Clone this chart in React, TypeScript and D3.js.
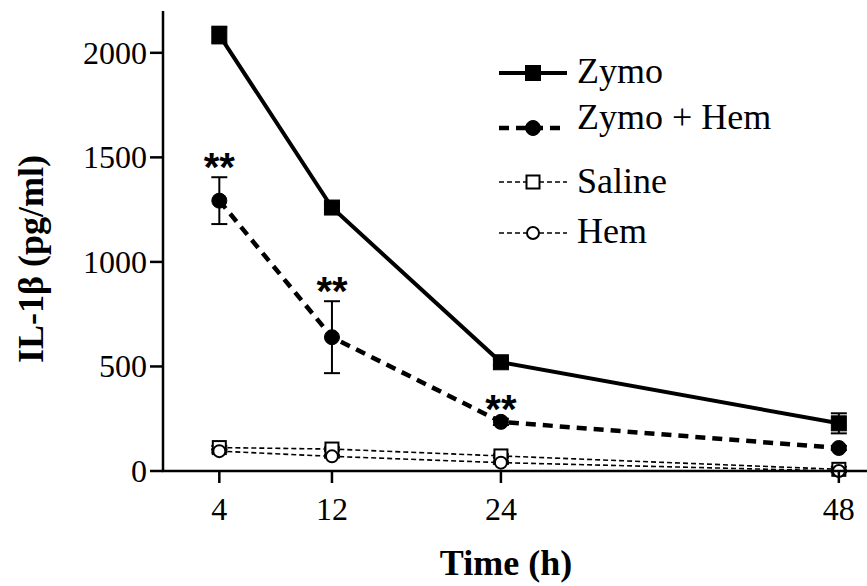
import * as d3 from 'd3'

const W = 867
const H = 586

// time points (h)
const TIMES = [4, 12, 24, 48]
const Y_TICKS = [0, 500, 1000, 1500, 2000]

// IL-1β values (pg/ml) and SEM
const ZYMO = [2085, 1260, 520, 228]
const ZYMO_ERR = [40, 15, 15, 48]
const ZYMO_HEM = [1293, 640, 235, 110]
const ZYMO_HEM_ERR = [112, 172, 15, 10]
const SALINE = [112, 105, 72, 8]
const SALINE_ERR = [8, 8, 8, 12]
const HEM = [95, 70, 40, 0]
const HEM_ERR = [6, 6, 6, 6]

// which Zymo + Hem points carry a significance mark
const SIGNIF = ['**', '**', '**', '']

const LEGEND = ['Zymo', 'Zymo + Hem', 'Saline', 'Hem']

const SERIF = '"Liberation Serif", "Times New Roman", serif'
const SANS = '"Liberation Sans", Arial, sans-serif'

const x = d3.scaleLinear().domain([0, 50]).range([163, 867])
const y = d3.scaleLinear().domain([0, 2200]).range([471, 11])

type Series = {
  name: string
  values: number[]
  err: number[]
  dash: string
  width: number
  marker: 'square' | 'circle'
  filled: boolean
  size: number
}

const SERIES: Series[] = [
  { name: LEGEND[2], values: SALINE, err: SALINE_ERR, dash: '5,3', width: 1.6, marker: 'square', filled: false, size: 13 },
  { name: LEGEND[3], values: HEM, err: HEM_ERR, dash: '5,3', width: 1.6, marker: 'circle', filled: false, size: 12 },
  { name: LEGEND[1], values: ZYMO_HEM, err: ZYMO_HEM_ERR, dash: '10,7', width: 4.5, marker: 'circle', filled: true, size: 15 },
  { name: LEGEND[0], values: ZYMO, err: ZYMO_ERR, dash: '', width: 4, marker: 'square', filled: true, size: 15 },
]

function Marker({ cx, cy, s }: { cx: number; cy: number; s: Series }) {
  const fill = s.filled ? '#000' : '#fff'
  if (s.marker === 'square') {
    return <rect x={cx - s.size / 2} y={cy - s.size / 2} width={s.size} height={s.size} fill={fill} stroke="#000" strokeWidth={s.filled ? 1 : 2} />
  }
  return <circle cx={cx} cy={cy} r={s.size / 2} fill={fill} stroke="#000" strokeWidth={s.filled ? 1 : 2} />
}

export default function App() {
  const line = d3.line<number>().x((_, i) => x(TIMES[i])).y((v) => y(v))

  const legendSeries = [SERIES[3], SERIES[2], SERIES[0], SERIES[1]]
  const legendY = [73, 128, 182, 233]
  const legendBase = [83, 129, 193, 243]

  return (
    <svg width={W} height={H} style={{ display: 'block', position: 'absolute', left: 0, top: 0, background: '#fff' }}>
      {/* error bars */}
      {SERIES.map((s) => (
        <g key={s.name + '-err'} stroke="#000" strokeWidth={2}>
          {s.values.map((v, i) => {
            const cx = x(TIMES[i])
            const top = y(v + s.err[i])
            const bot = y(v - s.err[i])
            return (
              <g key={i}>
                <line x1={cx} x2={cx} y1={top} y2={bot} />
                <line x1={cx - 8} x2={cx + 8} y1={top} y2={top} />
                <line x1={cx - 8} x2={cx + 8} y1={bot} y2={bot} />
              </g>
            )
          })}
        </g>
      ))}

      {/* lines */}
      {SERIES.map((s) => (
        <path key={s.name} d={line(s.values) || ''} fill="none" stroke="#000" strokeWidth={s.width} strokeDasharray={s.dash || undefined} />
      ))}

      {/* markers */}
      {SERIES.map((s) => (
        <g key={s.name + '-m'}>
          {s.values.map((v, i) => (
            <Marker key={i} cx={x(TIMES[i])} cy={y(v)} s={s} />
          ))}
        </g>
      ))}

      {/* significance */}
      {SIGNIF.map((t, i) =>
        t ? (
          <text key={i} x={x(TIMES[i])} y={y(ZYMO_HEM[i] + ZYMO_HEM_ERR[i]) + 4} textAnchor="middle" fontFamily={SANS} fontWeight="bold" fontSize={40}>
            {t}
          </text>
        ) : null
      )}

      {/* axes */}
      <g stroke="#000" strokeWidth={2.5}>
        <line x1={x(0)} x2={x(0)} y1={y(2200)} y2={y(0)} />
        {Y_TICKS.map((t) => (
          <line key={t} x1={x(0) - 13} x2={x(0)} y1={y(t)} y2={y(t)} />
        ))}
        <line x1={x(0) - 1} x2={x(50)} y1={y(0)} y2={y(0)} />
        {TIMES.map((t) => (
          <line key={t} x1={x(t)} x2={x(t)} y1={y(0)} y2={y(0) + 12} />
        ))}
      </g>
      {Y_TICKS.map((t) => (
        <text key={t} x={x(0) - 16} y={y(t)} dy="0.34em" textAnchor="end" fontFamily={SERIF} fontSize={32}>
          {t}
        </text>
      ))}
      {TIMES.map((t) => (
        <text key={t} x={x(t)} y={520} textAnchor="middle" fontFamily={SERIF} fontSize={32}>
          {t}
        </text>
      ))}

      {/* axis titles */}
      <text transform="translate(43,259) rotate(-90)" textAnchor="middle" fontFamily={SERIF} fontWeight="bold" fontSize={36}>
        IL-1β (pg/ml)
      </text>
      <text x={506} y={575} textAnchor="middle" fontFamily={SERIF} fontWeight="bold" fontSize={36}>
        Time (h)
      </text>

      {/* legend */}
      {legendSeries.map((s, i) => (
        <g key={s.name + '-leg'}>
          <line x1={499} x2={567} y1={legendY[i]} y2={legendY[i]} stroke="#000" strokeWidth={s.width} strokeDasharray={s.dash || undefined} />
          <Marker cx={533} cy={legendY[i]} s={s} />
          <text x={577} y={legendBase[i]} fontFamily={SERIF} fontSize={36}>
            {s.name}
          </text>
        </g>
      ))}
    </svg>
  )
}
